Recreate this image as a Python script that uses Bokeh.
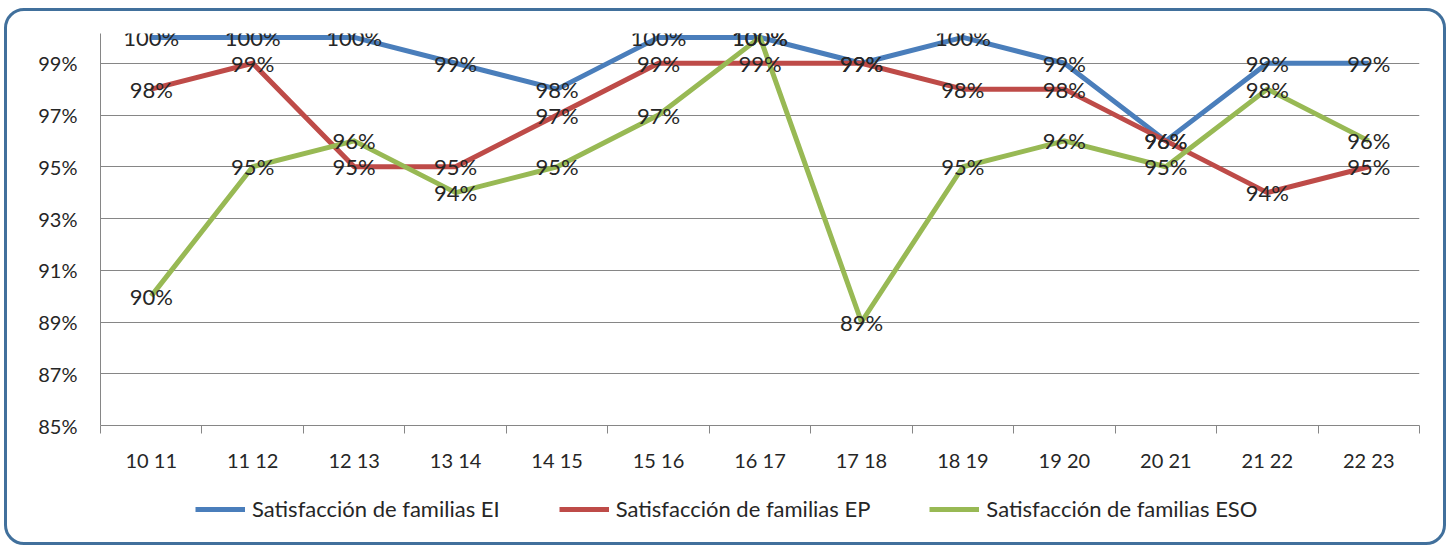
from bokeh.plotting import figure
from bokeh.layouts import column
from bokeh.models import (ColumnDataSource, FixedTicker, PrintfTickFormatter, Legend, LegendItem,
                          LabelSet)
from bokeh.core.properties import value
from bokeh.embed import file_html
from bokeh.resources import INLINE

categories = ["10 11", "11 12", "12 13", "13 14", "14 15", "15 16", "16 17",
              "17 18", "18 19", "19 20", "20 21", "21 22", "22 23"]
ei = [100, 100, 100, 99, 98, 100, 100, 99, 100, 99, 96, 99, 99]
ep = [98, 99, 95, 95, 97, 99, 99, 99, 98, 98, 96, 94, 95]
eso = [90, 95, 96, 94, 95, 97, 100, 89, 95, 96, 95, 98, 96]
series_names = ["Satisfacción de familias EI", "Satisfacción de familias EP", "Satisfacción de familias ESO"]
colors = ["#4A7EBB", "#BE4B48", "#98B954"]
y_ticks = [85, 87, 89, 91, 93, 95, 97, 99]

FONT = "Lato"
TXT = "#262626"

n = len(categories)
xs = list(range(1, n + 1))

W = 1436
H1, H2 = 470, 61
p = figure(width=W, height=H1, output_backend="svg", toolbar_location=None,
           x_range=(0.5, n + 0.5), y_range=(85, 100.15),
           min_border_left=93, min_border_right=24, min_border_top=22, min_border_bottom=56)
p.outline_line_color = None
p.background_fill_color = "white"
p.border_fill_color = None

# axes
p.xaxis.ticker = FixedTicker(ticks=xs, minor_ticks=[i + 0.5 for i in range(0, n + 1)])
p.xaxis.major_label_overrides = {i + 1: c for i, c in enumerate(categories)}
p.xaxis.major_tick_out = 0
p.xaxis.major_tick_in = 0
p.xaxis.minor_tick_out = 8
p.xaxis.minor_tick_in = 0
p.xaxis.minor_tick_line_color = "#868686"
p.xaxis.major_label_standoff = 14
p.yaxis.ticker = FixedTicker(ticks=y_ticks)
p.yaxis.formatter = PrintfTickFormatter(format="%d%%")
p.yaxis.major_tick_out = 9
p.yaxis.major_tick_in = 0
p.yaxis.minor_tick_line_color = None
p.yaxis.major_label_standoff = 14
for ax in (p.xaxis, p.yaxis):
    ax.axis_line_color = "#868686"
    ax.major_tick_line_color = "#868686" if ax is p.yaxis else None
    ax.major_label_text_font = FONT
    ax.major_label_text_font_size = "20px"
    ax.major_label_text_color = TXT
p.xgrid.grid_line_color = None
p.ygrid.ticker = FixedTicker(ticks=y_ticks)
p.ygrid.grid_line_color = "#868686"
p.ygrid.grid_line_width = 1

for vals, col in zip([ei, ep, eso], colors):
    src = ColumnDataSource(dict(x=xs, y=vals))
    p.line("x", "y", source=src, line_color=col, line_width=5, line_join="round")

for vals in [ei, ep, eso]:
    src = ColumnDataSource(dict(x=xs, y=vals, lab=[f"{v}%" for v in vals]))
    p.add_layout(LabelSet(x="x", y="y", text="lab", source=src, text_align="center",
                          text_baseline="middle", text_font=value(FONT), text_font_size="22px",
                          text_color=TXT))

# legend strip (same series drawn out of its visible range; only the legend shows)
q = figure(width=W, height=H2, output_backend="svg", toolbar_location=None,
           x_range=(0, 1), y_range=(0, 1), x_axis_type=None, y_axis_type=None,
           min_border=0, min_border_left=93, min_border_right=24, min_border_top=0, min_border_bottom=0)
q.outline_line_color = None
q.grid.visible = False
q.border_fill_color = None
q.background_fill_color = None
items = []
for name, vals, col in zip(series_names, [ei, ep, eso], colors):
    r = q.line(x=xs, y=vals, line_color=col, line_width=5)
    items.append(LegendItem(label=name, renderers=[r]))
legend = Legend(items=items, orientation="horizontal", location=(95, 20),
                label_text_font=FONT, label_text_font_size="22px", label_text_color=TXT,
                glyph_width=50, glyph_height=20, label_standoff=7, spacing=59,
                padding=0, margin=0, border_line_color=None, background_fill_alpha=0)
q.add_layout(legend, "center")

layout = column(p, q, spacing=0)
layout.styles = {"border": "3px solid #41709C", "border-radius": "20px",
                 "margin-left": "4px", "margin-top": "8px"}

open("out.html", "w").write(file_html(layout, INLINE))
